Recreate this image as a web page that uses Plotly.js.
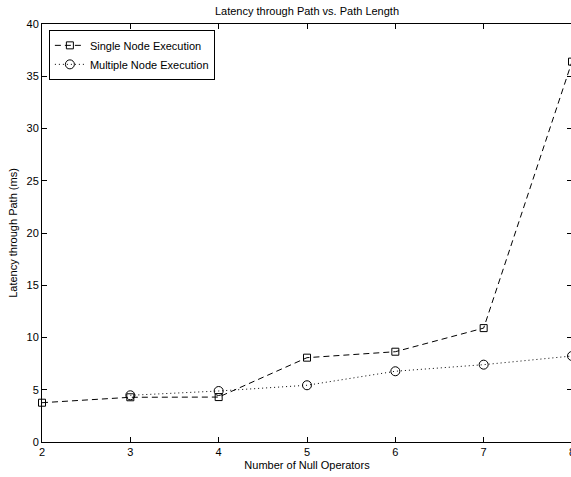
<!DOCTYPE html>
<html>
<head>
<meta charset="utf-8">
<script src="https://cdn.plot.ly/plotly-3.0.1.min.js"></script>
<style>
html,body{margin:0;padding:0;overflow:hidden;background:#fff;}
#chart{width:580px;height:477px;}
</style>
</head>
<body>
<div id="chart"></div>
<script>
const nullOperators = [2, 3, 4, 5, 6, 7, 8];
const singleNode = [3.76, 4.28, 4.3, 8.07, 8.64, 10.9, 36.4];
const multiNodeX = [3, 4, 5, 6, 7, 8];
const multiNode = [4.47, 4.88, 5.43, 6.77, 7.4, 8.23];
const xTicks = [2, 3, 4, 5, 6, 7, 8];
const yTicks = [0, 5, 10, 15, 20, 25, 30, 35, 40];

const font = {family: 'Liberation Sans, Arial, sans-serif', size: 11, color: '#000'};

const traces = [
  {
    x: nullOperators, y: singleNode, name: 'Single Node Execution',
    type: 'scatter', mode: 'lines+markers', cliponaxis: false,
    line: {color: '#000', width: 1, dash: '6px,4px'},
    marker: {symbol: 'square-open', size: 7, color: '#000', line: {width: 1, color: '#000'}}
  },
  {
    x: multiNodeX, y: multiNode, name: 'Multiple Node Execution',
    type: 'scatter', mode: 'lines+markers', cliponaxis: false,
    line: {color: '#000', width: 1, dash: '1px,3px'},
    marker: {symbol: 'circle-open', size: 9, color: '#000', line: {width: 1, color: '#000'}}
  }
];

const layout = {
  width: 580, height: 477,
  margin: {l: 42, r: 8, t: 24, b: 35},
  paper_bgcolor: '#fff', plot_bgcolor: '#fff',
  font: font,
  title: {text: 'Latency through Path vs. Path Length', font: font, x: 0.5, xref: 'paper', y: 0.977, yanchor: 'middle'},
  xaxis: {
    range: [2, 8], tickvals: xTicks, ticktext: xTicks.map(String),
    ticks: 'inside', ticklen: 5, tickcolor: '#000', tickwidth: 1,
    showline: true, linecolor: '#000', linewidth: 1, mirror: 'ticks',
    showgrid: false, zeroline: false, tickfont: font,
    title: {text: 'Number of Null Operators', font: font, standoff: 4}
  },
  yaxis: {
    range: [0, 40], tickvals: yTicks, ticktext: yTicks.map(String),
    ticks: 'inside', ticklen: 5, tickcolor: '#000', tickwidth: 1,
    showline: true, linecolor: '#000', linewidth: 1, mirror: 'ticks',
    showgrid: false, zeroline: false, tickfont: font,
    title: {text: 'Latency through Path (ms)', font: font, standoff: 6}
  },
  showlegend: true,
  legend: {
    x: 0.013, y: 0.986, xanchor: 'left', yanchor: 'top',
    bgcolor: '#fff', bordercolor: '#000', borderwidth: 1,
    font: font, itemwidth: 30, tracegroupgap: 0
  }
};

Plotly.newPlot('chart', traces, layout, {displayModeBar: false, staticPlot: true});
</script>
</body>
</html>
